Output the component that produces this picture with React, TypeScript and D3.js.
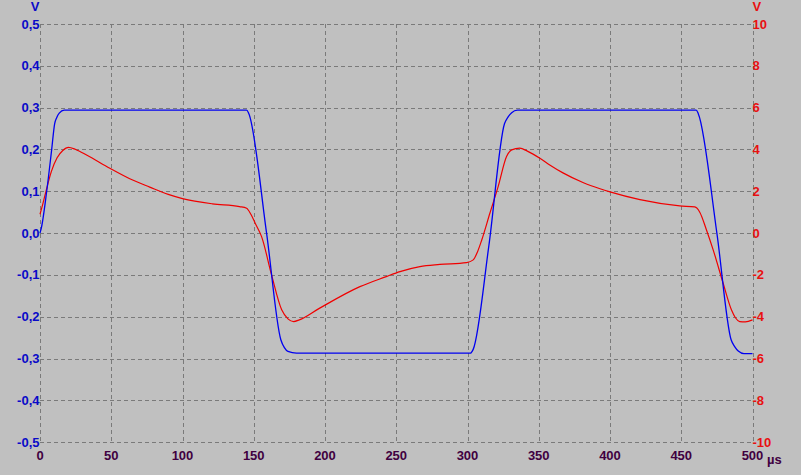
import React from "react";
import * as d3 from "d3";

const W = 801;
const H = 475;

// time axis ticks (µs)
const xTicks = [0, 50, 100, 150, 200, 250, 300, 350, 400, 450, 500];
// left axis ticks (V)
const yLeftTicks = [0.5, 0.4, 0.3, 0.2, 0.1, 0.0, -0.1, -0.2, -0.3, -0.4, -0.5];
// right axis ticks (V)
const yRightTicks = [10, 8, 6, 4, 2, 0, -2, -4, -6, -8, -10];

// blue trace (left axis)
const blueTime = [0, 0.8, 4.7, 8.2, 10.3, 11.7, 13.5, 17, 145, 146.5, 159, 169, 171.5, 174, 180, 302, 304, 315, 326, 328.5, 331, 335, 460.5, 462, 475, 485, 487.6, 490, 494, 500];
const blueVolt = [0, 0.01, 0.1, 0.2, 0.262, 0.276, 0.287, 0.294, 0.294, 0.286, 0.0, -0.255, -0.274, -0.283, -0.287, -0.287, -0.278, -0.03, 0.262, 0.278, 0.288, 0.294, 0.294, 0.285, 0.0, -0.255, -0.272, -0.282, -0.288, -0.288];

// red trace (right axis)
const redTime = [0, 2, 4.2, 8, 12, 16, 20, 25, 33, 49, 63, 77, 90, 100, 121, 140, 145, 148, 151, 155.5, 162.5, 169.6, 174, 178, 182, 196, 224.5, 243, 252.6, 266.6, 280.6, 299.3, 304, 307, 310, 315.7, 321.5, 327.4, 331, 336.7, 342, 350.8, 358, 367, 381, 393, 400, 421, 449, 459.5, 463, 467.7, 472.4, 479.4, 485.2, 488, 491, 495, 500];
const redVolt = [0.9, 1.4, 2.0, 2.95, 3.6, 3.95, 4.1, 4.0, 3.72, 3.1, 2.6, 2.2, 1.85, 1.65, 1.4, 1.27, 1.19, 0.9, 0.47, -0.17, -2.0, -3.67, -4.1, -4.23, -4.15, -3.6, -2.56, -2.08, -1.84, -1.6, -1.5, -1.41, -1.28, -0.9, -0.33, 0.95, 2.22, 3.66, 3.98, 4.06, 3.92, 3.58, 3.25, 2.88, 2.42, 2.12, 1.97, 1.6, 1.3, 1.25, 1.0, 0.15, -0.8, -2.4, -3.67, -4.05, -4.23, -4.25, -4.15];

const x = d3.scaleLinear().domain([0, 500]).range([40, 752.5]);
const yL = d3.scaleLinear().domain([-0.5, 0.5]).range([442.2, 24]);
const yR = d3.scaleLinear().domain([-10, 10]).range([442.2, 24]);

const fmtL = (v: number) => v.toFixed(1).replace(".", ",").replace("-0,0", "0,0");

const FONT = "'Liberation Sans', Arial, sans-serif";
const BLUE_TXT = "#0a0ac8";
const RED_TXT = "#e81010";
const BOTTOM_TXT = "#400040";

export default function App() {
  const blueLine = d3
    .line<number>()
    .x((_, i) => x(blueTime[i]))
    .y((v) => yL(v))
    .curve(d3.curveMonotoneX)(blueVolt) as string;
  const redLine = d3
    .line<number>()
    .x((_, i) => x(redTime[i]))
    .y((v) => yR(v))
    .curve(d3.curveMonotoneX)(redVolt) as string;

  const [x0, x1] = x.range();
  const [yb, yt] = yL.range();

  return (
    <svg
      width={W}
      height={H}
      style={{ position: "absolute", left: 0, top: 0, display: "block" }}
    >
      <rect x={0} y={0} width={W} height={H} fill="#c0c0c0" />
      {/* grid */}
      <g stroke="#7a7a7a" strokeWidth={1} strokeDasharray="4,3" shapeRendering="crispEdges">
        {xTicks.map((t) => (
          <line key={"gx" + t} x1={Math.round(x(t)) + 0.5} x2={Math.round(x(t)) + 0.5} y1={yt} y2={yb} />
        ))}
        {yLeftTicks.map((t) => (
          <line key={"gy" + t} x1={x0} x2={x1} y1={Math.round(yL(t)) + 0.5} y2={Math.round(yL(t)) + 0.5} />
        ))}
      </g>
      {/* left labels */}
      <g fontFamily={FONT} fontWeight="bold" fontSize={13} fill={BLUE_TXT} textAnchor="end">
        {yLeftTicks.map((t) => (
          <text key={"lt" + t} x={39.5} y={yL(t) + 4.5}>
            {fmtL(t)}
          </text>
        ))}
        <text x={39.5} y={11}>V</text>
      </g>
      {/* right labels */}
      <g fontFamily={FONT} fontWeight="bold" fontSize={13} fill={RED_TXT} textAnchor="start">
        {yRightTicks.map((t) => (
          <text key={"rt" + t} x={752.5} y={yR(t) + 4.5}>
            {String(t)}
          </text>
        ))}
        <text x={752.5} y={11}>V</text>
      </g>
      {/* bottom labels */}
      <g fontFamily={FONT} fontWeight="bold" fontSize={13} fill={BOTTOM_TXT} textAnchor="middle">
        {xTicks.map((t) => (
          <text key={"bt" + t} x={x(t)} y={460}>
            {String(t)}
          </text>
        ))}
        <text x={767} y={464} textAnchor="start">µs</text>
      </g>
      {/* traces */}
      <path d={redLine} fill="none" stroke="#f00000" strokeWidth={1.2} />
      <path d={blueLine} fill="none" stroke="#0000f0" strokeWidth={1.3} />
    </svg>
  );
}
